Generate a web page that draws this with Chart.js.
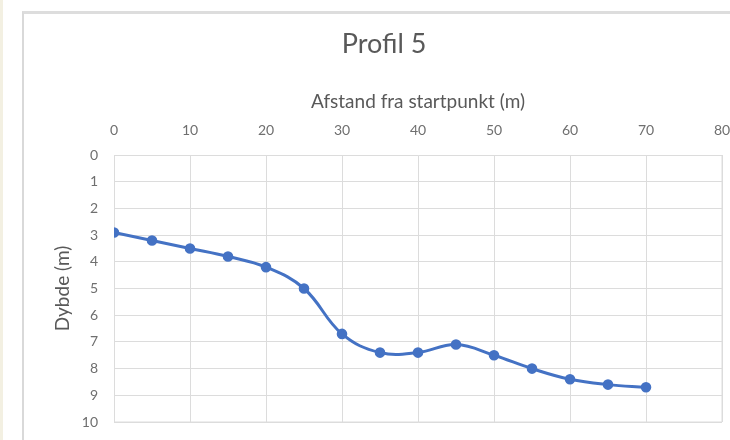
<!DOCTYPE html>
<html>
<head>
<meta charset="utf-8">
<script src="https://cdn.jsdelivr.net/npm/chart.js@4"></script>
<style>
  html, body { margin: 0; padding: 0; background: #ffffff; overflow: hidden; }
  body { width: 730px; height: 440px; position: relative; }
  #strip { position: absolute; left: 0; top: 0; width: 3px; height: 440px; background: #f3f0e2; }
  #frame { position: absolute; left: 22px; top: 11px; width: 708px; height: 429px; border-top: 3px solid #dddddd; border-left: 2px solid #d9d9d9; box-sizing: border-box; }
  #wrap { position: absolute; left: 0; top: 0; width: 730px; height: 440px; }
</style>
</head>
<body>
<div id="strip"></div>
<div id="frame"></div>
<div id="wrap"><canvas id="c" width="730" height="440"></canvas></div>
<script>
const chartTitle = "Profil 5";
const xTitle = "Afstand fra startpunkt (m)";
const yTitle = "Dybde (m)";
const distances = [0, 5, 10, 15, 20, 25, 30, 35, 40, 45, 50, 55, 60, 65, 70];
const depths = [2.9, 3.2, 3.5, 3.8, 4.2, 5.0, 6.7, 7.4, 7.4, 7.1, 7.5, 8.0, 8.4, 8.6, 8.7];

const points = distances.map((d, i) => ({ x: d, y: depths[i] }));
const blue = '#4472C4';
const grey = '#595959';
const tickGrey = '#6f6f6f';
const gridC = '#dcdcdc';
const fam = 'Lato, "Open Sans", sans-serif';

new Chart(document.getElementById('c'), {
  type: 'scatter',
  data: {
    datasets: [{
      data: points,
      showLine: true,
      borderColor: blue,
      backgroundColor: blue,
      borderWidth: 3,
      pointRadius: 3.8,
      pointBackgroundColor: blue,
      pointBorderColor: blue,
      tension: 0.4
    }]
  },
  options: {
    responsive: false,
    animation: false,
    layout: { padding: { left: 46, top: 20, right: 8, bottom: 18 } },
    plugins: {
      legend: { display: false },
      tooltip: { enabled: false },
      title: {
        display: true,
        text: chartTitle,
        color: grey,
        font: { family: fam, size: 27, weight: 'normal' },
        padding: { top: 8, bottom: 0 }
      }
    },
    scales: {
      x: {
        type: 'linear',
        position: 'top',
        min: 0, max: 80,
        afterFit: (s) => { s.height = 94.6; s.paddingLeft = 0; s.paddingRight = 0; },
        ticks: { stepSize: 10, color: tickGrey, font: { family: fam, size: 14 }, padding: 16, maxRotation: 0 },
        grid: { color: gridC, lineWidth: 1, drawTicks: false },
        border: { color: gridC },
        title: { display: true, text: xTitle, color: grey, font: { family: fam, size: 19 }, padding: { top: 30, bottom: 0 } }
      },
      y: {
        type: 'linear',
        reverse: true,
        min: 0, max: 10,
        afterFit: (s) => { s.width = 68; s.paddingTop = 0; s.paddingBottom = 0; },
        ticks: { stepSize: 1, color: tickGrey, font: { family: fam, size: 14 }, padding: 16 },
        grid: { color: gridC, lineWidth: 1, drawTicks: false },
        border: { color: gridC },
        title: { display: true, text: yTitle, color: grey, font: { family: fam, size: 19 }, padding: { top: 5, bottom: 0 } }
      }
    }
  },
  plugins: [{
    id: 'rightBottomBorder',
    afterDraw(chart) {
      const { ctx, chartArea: a } = chart;
      ctx.save();
      ctx.strokeStyle = gridC;
      ctx.lineWidth = 1;
      ctx.beginPath();
      ctx.moveTo(a.right, a.top);
      ctx.lineTo(a.right, a.bottom);
      ctx.lineTo(a.left, a.bottom);
      ctx.stroke();
      ctx.restore();
    }
  }]
});
</script>
</body>
</html>
